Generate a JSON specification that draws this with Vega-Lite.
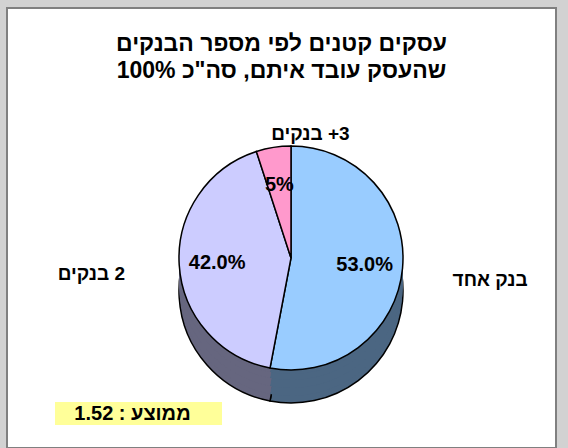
{
  "$schema": "https://vega.github.io/schema/vega-lite/v6.json",
  "width": 568,
  "height": 448,
  "autosize": {"type": "fit", "contains": "padding"},
  "padding": {"left": 7, "top": 8, "right": 12, "bottom": 0},
  "background": "#d2d2d2",
  "view": {"fill": "white", "stroke": "#808080", "strokeWidth": 2},
  "title": {
    "text": ["עסקים קטנים לפי מספר הבנקים", "100% שהעסק עובד איתם, סה\"כ"],
    "fontSize": 23,
    "fontWeight": "bold",
    "font": "Liberation Sans",
    "color": "black",
    "lineHeight": 27,
    "anchor": "middle",
    "frame": "group",
    "baseline": "top",
    "offset": -75
  },
  "data": {
    "values": [
      {"cat": "בנק אחד", "label": "בנק אחד", "value": 53, "pct": "53.0%", "ord": 1},
      {"cat": "2 בנקים", "label": "בנקים \u200E2", "value": 42, "pct": "42.0%", "ord": 2},
      {"cat": "3+ בנקים", "label": "בנקים \u200E+3", "value": 5, "pct": "5%", "ord": 3}
    ]
  },
  "layer": [
    {
      "encoding": {
        "theta": {"field": "value", "type": "quantitative", "stack": true},
        "order": {"field": "ord", "type": "quantitative"}
      },
      "layer": [
        {
          "mark": {"type": "arc", "outerRadius": 112, "xOffset": 9.5, "yOffset": 63, "stroke": "black", "strokeWidth": 1.5},
          "encoding": {"fill": {"field": "cat", "type": "nominal", "scale": {"domain": ["בנק אחד", "2 בנקים", "3+ בנקים"], "range": ["#4b6682", "#66667f", "#804d66"]}, "legend": null}}
        },
        {
          "mark": {"type": "arc", "outerRadius": 112, "xOffset": 9.5, "yOffset": 56},
          "encoding": {"fill": {"field": "cat", "type": "nominal", "legend": null}}
        },
        {
          "mark": {"type": "arc", "outerRadius": 112, "xOffset": 9.5, "yOffset": 48},
          "encoding": {"fill": {"field": "cat", "type": "nominal", "legend": null}}
        },
        {
          "mark": {"type": "arc", "outerRadius": 112, "xOffset": 9.5, "yOffset": 40},
          "encoding": {"fill": {"field": "cat", "type": "nominal", "legend": null}}
        },
        {
          "mark": {"type": "arc", "outerRadius": 112, "xOffset": 9.5, "yOffset": 34},
          "encoding": {"fill": {"field": "cat", "type": "nominal", "legend": null}}
        },
        {
          "mark": {"type": "arc", "outerRadius": 112, "xOffset": 9.5, "yOffset": 30, "stroke": "black", "strokeWidth": 1.5},
          "encoding": {"color": {"field": "cat", "type": "nominal", "scale": {"domain": ["בנק אחד", "2 בנקים", "3+ בנקים"], "range": ["#99ccff", "#ccccff", "#ff99cc"]}, "legend": null}}
        },
        {
          "mark": {"type": "text", "radius": 74, "xOffset": 9.5, "yOffset": 30, "fontSize": 20, "fontWeight": "bold", "font": "Liberation Sans", "color": "black"},
          "encoding": {"text": {"field": "pct", "type": "nominal"}, "detail": {"field": "cat"}}
        },
        {
          "mark": {"type": "text", "radius": 200, "xOffset": 9.5, "yOffset": 30, "dy": 3, "fontSize": 19, "fontWeight": "bold", "font": "Liberation Sans", "color": "black"},
          "encoding": {"text": {"condition": {"test": "datum.ord < 3", "field": "label"}, "value": ""}, "detail": {"field": "cat"}}
        },
        {
          "mark": {"type": "text", "radius": 126, "xOffset": 9.5, "yOffset": 30, "align": "left", "fontSize": 19, "fontWeight": "bold", "font": "Liberation Sans", "color": "black"},
          "encoding": {"text": {"condition": {"test": "datum.ord == 3", "field": "label"}, "value": ""}, "detail": {"field": "cat"}}
        }
      ]
    },
    {
      "data": {"values": [{"note": "1.52 : ממוצע"}]},
      "layer": [
        {
          "mark": {"type": "point", "shape": "M-1,-0.1377L1,-0.1377L1,0.1377L-1,0.1377Z", "size": 27889, "filled": true, "fill": "#ffff99", "opacity": 1, "strokeWidth": 0, "xOffset": -143, "yOffset": 185.5},
          "encoding": {}
        },
        {
          "mark": {"type": "text", "fontSize": 20, "fontWeight": "bold", "font": "Liberation Sans", "color": "black", "xOffset": -149, "yOffset": 186, "baseline": "middle"},
          "encoding": {"text": {"field": "note", "type": "nominal"}}
        }
      ]
    }
  ],
  "config": {
    "font": "Liberation Sans"
  }
}
